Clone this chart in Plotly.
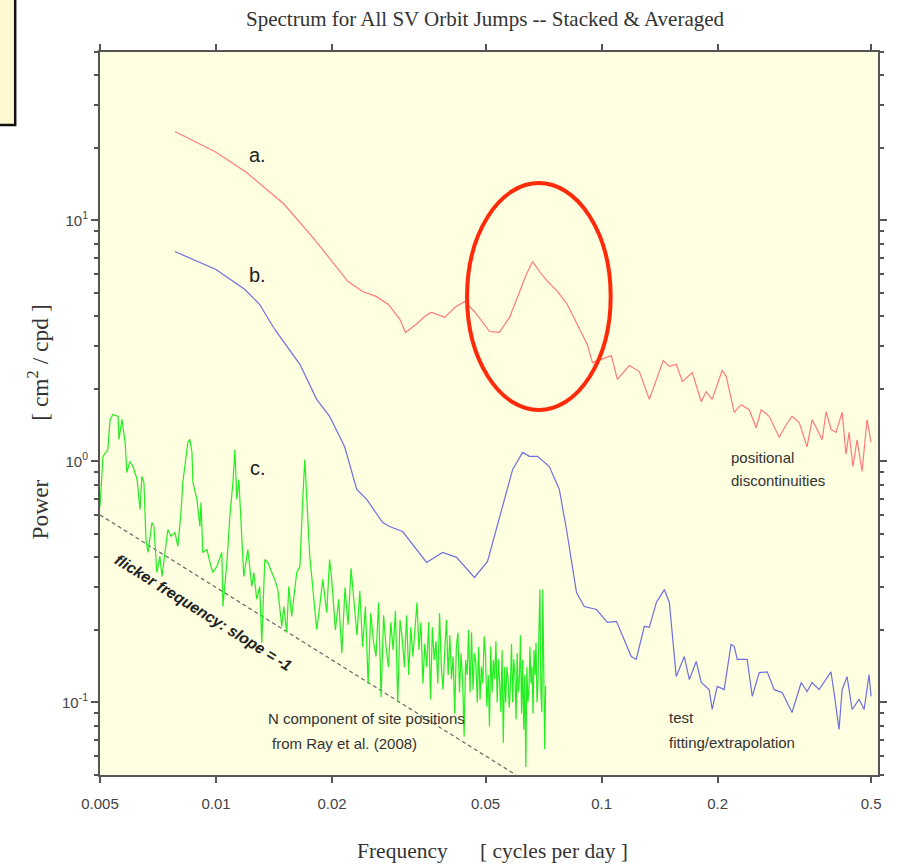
import plotly.graph_objects as go

# ---- data ----
red_f = [0.00782, 0.0100, 0.0120, 0.0150, 0.0180, 0.0200, 0.0220, 0.0240, 0.0260, 0.0280,
         0.0300, 0.0310, 0.0330, 0.0350, 0.0362, 0.0392, 0.0416, 0.0441, 0.0468, 0.0512,
         0.0543, 0.0577, 0.0612, 0.0638, 0.0662, 0.0690, 0.0725, 0.0768, 0.0815, 0.0865,
         0.0918, 0.0947, 0.1060, 0.1099, 0.1180, 0.1253, 0.1330, 0.1445, 0.1499, 0.1562,
         0.1620, 0.1719, 0.1814, 0.1868, 0.1936, 0.2056, 0.2106, 0.2208, 0.2301, 0.2415,
         0.2518, 0.2594, 0.2721, 0.2888, 0.3013, 0.3119, 0.3256, 0.3412, 0.3516, 0.3622,
         0.3733, 0.3824, 0.3936, 0.4055, 0.4207, 0.4305, 0.4385, 0.4487, 0.4599, 0.4739,
         0.4882, 0.500]
red_p = [23.4, 19.2, 15.8, 11.7, 8.34, 6.76, 5.58, 5.07, 4.84, 4.48,
         3.88, 3.43, 3.70, 4.03, 4.15, 3.96, 4.35, 4.61, 4.19, 3.46,
         3.43, 3.96, 5.08, 5.97, 6.76, 6.14, 5.58, 5.08, 4.48, 3.70,
         3.06, 2.57, 2.75, 2.19, 2.50, 2.36, 1.81, 2.62, 2.48, 2.53,
         2.15, 2.34, 1.77, 1.95, 1.81, 2.39, 2.25, 1.60, 1.72, 1.64,
         1.38, 1.64, 1.54, 1.26, 1.42, 1.54, 1.45, 1.15, 1.49, 1.36,
         1.23, 1.61, 1.36, 1.32, 1.60, 1.07, 1.32, 0.953, 1.23, 0.909,
         1.49, 1.20]

blue_f = [0.00782, 0.0100, 0.01188, 0.01298, 0.0142, 0.0165, 0.01824, 0.0197, 0.02156, 0.02317,
          0.02459, 0.02705, 0.0282, 0.03048, 0.03516, 0.03869, 0.04206, 0.0468, 0.0506, 0.0553,
          0.0588, 0.0624, 0.0650, 0.0682, 0.0732, 0.0777, 0.0811, 0.0861, 0.0902, 0.0970,
          0.1035, 0.1093, 0.1194, 0.1230, 0.1291, 0.1330, 0.1387, 0.1455, 0.1499, 0.1562,
          0.1639, 0.1689, 0.1760, 0.1814, 0.1901, 0.1936, 0.1995, 0.2080, 0.2167, 0.2208,
          0.2248, 0.2386, 0.2459, 0.2564, 0.2689, 0.2804, 0.2940, 0.3119, 0.3295, 0.3412,
          0.3516, 0.3666, 0.3824, 0.3936, 0.4009, 0.4130, 0.4207, 0.4333, 0.4466, 0.4656,
          0.4797, 0.4941, 0.500]
blue_p = [7.43, 6.26, 5.17, 4.48, 3.53, 2.53, 1.81, 1.54, 1.15, 0.765,
          0.696, 0.558, 0.537, 0.512, 0.381, 0.419, 0.400, 0.330, 0.385, 0.651,
          0.927, 1.09, 1.05, 1.05, 0.953, 0.765, 0.522, 0.286, 0.250, 0.243,
          0.215, 0.217, 0.155, 0.151, 0.207, 0.205, 0.260, 0.294, 0.260, 0.128,
          0.155, 0.1246, 0.148, 0.121, 0.113, 0.0935, 0.1165, 0.113, 0.174, 0.171,
          0.151, 0.151, 0.106, 0.133, 0.134, 0.113, 0.110, 0.0909, 0.121, 0.111,
          0.121, 0.113, 0.1246, 0.134, 0.110, 0.0773, 0.113, 0.128, 0.0935, 0.103,
          0.0935, 0.1306, 0.106]

# green: low-frequency part (peaks) ...
green_f_low = [0.00500, 0.00509, 0.00524, 0.00531, 0.00540, 0.00557, 0.00560, 0.00570, 0.00581, 0.00587,
               0.00598, 0.00609, 0.00624, 0.00635, 0.00642, 0.00650, 0.00658, 0.00666, 0.00682, 0.00690,
               0.00702, 0.00715, 0.00724, 0.00737, 0.00750, 0.00764, 0.00782, 0.00796, 0.00811, 0.00820,
               0.00835, 0.00845, 0.00855, 0.00866, 0.00871, 0.00892, 0.00908, 0.00914, 0.00924, 0.00947,
               0.00964, 0.00981, 0.01005, 0.01035, 0.01042, 0.01067, 0.01086, 0.01106, 0.01119, 0.01132,
               0.01146, 0.01167, 0.01180, 0.01209, 0.01238, 0.01253, 0.01275, 0.01298, 0.01314, 0.01338,
               0.01362, 0.01395, 0.01420, 0.01446, 0.01481, 0.01499, 0.01525, 0.01544, 0.01571, 0.01619,
               0.01650, 0.01678, 0.01699, 0.01729, 0.01750, 0.01781, 0.01824, 0.01857, 0.01891, 0.01937,
               0.01970, 0.01995]
green_p_low = [0.651, 1.049, 1.121, 1.494, 1.567, 1.537, 1.234, 1.494, 1.199, 0.900,
               1.000, 0.953, 0.842, 0.632, 0.867, 0.818, 0.475, 0.419, 0.558, 0.537,
               0.346, 0.404, 0.333, 0.419, 0.522, 0.489, 0.507, 0.444, 0.614, 0.818,
               1.049, 1.199, 1.234, 1.090, 0.818, 0.696, 0.537, 0.676, 0.419, 0.431,
               0.381, 0.346, 0.367, 0.419, 0.250, 0.381, 0.591, 0.818, 1.121, 0.696,
               0.842, 0.475, 0.333, 0.431, 0.303, 0.346, 0.268, 0.303, 0.1774, 0.392,
               0.381, 0.346, 0.324, 0.294, 0.2067, 0.250, 0.1952, 0.303, 0.2275, 0.346,
               0.367, 0.696, 1.019, 0.591, 0.404, 0.303, 0.201, 0.250, 0.324, 0.236,
               0.392, 0.324]
# ... and the dense, noisy high-frequency part
green_f_high = [0.0204, 0.0208, 0.0212, 0.0216, 0.0220, 0.0224, 0.0228, 0.0232, 0.0236, 0.0240,
                0.0244, 0.0248, 0.0252, 0.0256, 0.0260, 0.0264, 0.0268, 0.0272, 0.0276, 0.0280,
                0.0284, 0.0288, 0.0292, 0.0296, 0.0300, 0.0304, 0.0308, 0.0312, 0.0316, 0.0320,
                0.0324, 0.0328, 0.0332, 0.0336, 0.0340, 0.0344, 0.0348, 0.0352, 0.0356, 0.0360,
                0.0364, 0.0368, 0.0372, 0.0376, 0.0380, 0.0384, 0.0388, 0.0392, 0.0396, 0.0400,
                0.0404, 0.0408, 0.0412, 0.0416, 0.0420, 0.0424, 0.0428, 0.0432, 0.0436, 0.0440,
                0.0444, 0.0448, 0.0452, 0.0456, 0.0460, 0.0464, 0.0468, 0.0472, 0.0476, 0.0480,
                0.0484, 0.0488, 0.0492, 0.0496, 0.0500, 0.0504, 0.0508, 0.0512, 0.0516, 0.0520,
                0.0524, 0.0528, 0.0532, 0.0536, 0.0540, 0.0544, 0.0548, 0.0552, 0.0556, 0.0560,
                0.0564, 0.0568, 0.0572, 0.0576, 0.0580, 0.0584, 0.0588, 0.0592, 0.0596, 0.0600,
                0.0604, 0.0608, 0.0612, 0.0616, 0.0620, 0.0624, 0.0628, 0.0632, 0.0636, 0.0640,
                0.0644, 0.0648, 0.0652, 0.0656, 0.0660, 0.0664, 0.0668, 0.0672, 0.0676, 0.0680,
                0.0684, 0.0688, 0.0692, 0.0696, 0.0700, 0.0704, 0.0708, 0.0712, 0.0716]
green_p_high = [0.200, 0.268, 0.160, 0.300, 0.210, 0.360, 0.250, 0.190, 0.290, 0.170,
                0.250, 0.120, 0.235, 0.180, 0.155, 0.260, 0.105, 0.230, 0.170, 0.140,
                0.215, 0.165, 0.240, 0.100, 0.220, 0.185, 0.140, 0.230, 0.130, 0.205,
                0.155, 0.200, 0.260, 0.165, 0.215, 0.120, 0.175, 0.140, 0.215, 0.103,
                0.205, 0.150, 0.180, 0.120, 0.235, 0.140, 0.113, 0.165, 0.220, 0.130,
                0.190, 0.125, 0.155, 0.090, 0.170, 0.195, 0.110, 0.160, 0.125, 0.072,
                0.150, 0.130, 0.200, 0.110, 0.195, 0.113, 0.160, 0.147, 0.100, 0.170,
                0.103, 0.141, 0.120, 0.188, 0.155, 0.096, 0.130, 0.0795, 0.171, 0.110,
                0.150, 0.125, 0.180, 0.100, 0.151, 0.120, 0.091, 0.165, 0.068, 0.140,
                0.100, 0.141, 0.125, 0.095, 0.1165, 0.175, 0.100, 0.151, 0.130, 0.085,
                0.160, 0.110, 0.125, 0.190, 0.090, 0.150, 0.077, 0.130, 0.054, 0.140,
                0.100, 0.113, 0.170, 0.120, 0.141, 0.090, 0.165, 0.130, 0.177, 0.100,
                0.121, 0.200, 0.294, 0.110, 0.091, 0.294, 0.130, 0.064, 0.117]
green_f = green_f_low + green_f_high
green_p = green_p_low + green_p_high

flicker_f = [0.005, 0.06]
flicker_p = [0.6, 0.05]

x_tick_vals = [0.005, 0.01, 0.02, 0.05, 0.1, 0.2, 0.5]
x_tick_text = ["0.005", "0.01", "0.02", "0.05", "0.1", "0.2", "0.5"]
y_tick_vals = [0.1, 1, 10]
y_tick_text = ["10<sup>-1</sup>", "10<sup>0</sup>", "10<sup>1</sup>"]
y_minor_vals = [m * d for d in (0.01, 0.1, 1, 10) for m in range(2, 10)]

fig = go.Figure()
fig.add_trace(go.Scatter(x=flicker_f, y=flicker_p, mode="lines",
                         line=dict(color="#666666", width=1.2, dash="4px,3px"), hoverinfo="skip"))
fig.add_trace(go.Scatter(x=green_f, y=green_p, mode="lines",
                         line=dict(color="#22EE22", width=1.2)))
fig.add_trace(go.Scatter(x=red_f, y=red_p, mode="lines",
                         line=dict(color="#FF7A7A", width=1.2)))
fig.add_trace(go.Scatter(x=blue_f, y=blue_p, mode="lines",
                         line=dict(color="#6F6FE0", width=1.2)))

axis_col = "#555555"
fig.update_xaxes(type="log", range=[-2.30103, -0.283], tickvals=x_tick_vals, ticktext=x_tick_text,
                 ticks="outside", ticklen=6, tickwidth=1.5, tickcolor=axis_col, ticklabelstandoff=8,
                 showline=True, linecolor=axis_col, linewidth=2, mirror="ticks",
                 showgrid=False, zeroline=False,
                 tickfont=dict(family="Liberation Sans", size=15, color="#444444"))
fig.update_yaxes(type="log", range=[-1.301, 1.699], tickvals=y_tick_vals, ticktext=y_tick_text,
                 ticks="outside", ticklen=7, tickwidth=1.5, tickcolor=axis_col,
                 minor=dict(tickvals=y_minor_vals, ticks="outside", ticklen=4, tickcolor=axis_col,
                            showgrid=False),
                 showline=True, linecolor=axis_col, linewidth=2, mirror="ticks",
                 showgrid=False, zeroline=False,
                 tickfont=dict(family="Liberation Sans", size=15, color="#444444"))

txt_col = "#333333"
for t, yy in (("a.", 0.8575), ("b.", 0.6916), ("c.", 0.4246)):
    fig.add_annotation(text=t, x=0.2026, y=yy, xref="paper", yref="paper",
                       showarrow=False, xanchor="center", yanchor="middle",
                       font=dict(family="Liberation Sans", size=20, color="#222222"))

notes = [
    ("positional", 0.809, 0.4385),
    ("discontinuities", 0.809, 0.408),
    ("test", 0.7282, 0.0802),
    ("fitting/extrapolation", 0.7282, 0.0456),
    ("N component of site positions", 0.2128, 0.0788),
    ("from Ray et al. (2008)", 0.2179, 0.0429),
]
for t, xx, yy in notes:
    fig.add_annotation(text=t, x=xx, y=yy, xref="paper", yref="paper",
                       showarrow=False, xanchor="left", yanchor="middle",
                       font=dict(family="Liberation Sans", size=15, color=txt_col))

fig.add_annotation(text="<b><i>flicker frequency: slope = -1</i></b>", x=0.1333, y=0.2254,
                   xref="paper", yref="paper", showarrow=False, textangle=32,
                   xanchor="center", yanchor="middle",
                   font=dict(family="Liberation Sans", size=15.5, color="#222222"))

# titles
fig.add_annotation(text="Spectrum for All SV Orbit Jumps -- Stacked &amp; Averaged", x=0.495, y=1.0456,
                   xref="paper", yref="paper", showarrow=False, xanchor="center", yanchor="middle",
                   font=dict(family="Liberation Serif", size=21, color=txt_col))
fig.add_annotation(text="Frequency      [ cycles per day ]", x=0.505, y=-0.105,
                   xref="paper", yref="paper", showarrow=False, xanchor="center", yanchor="middle",
                   font=dict(family="Liberation Serif", size=21.5, color=txt_col))
fig.add_annotation(text="Power          [ cm<sup>2</sup> / cpd ]", x=-0.0795, y=0.4876, textangle=-90,
                   xref="paper", yref="paper", showarrow=False, xanchor="center", yanchor="middle",
                   font=dict(family="Liberation Serif", size=23.5, color=txt_col))

# cropped box at top-left and highlight ellipse
fig.add_shape(type="rect", xref="paper", yref="paper", x0=-0.14, x1=-0.109, y0=0.899, y1=1.08,
              fillcolor="#FFFAD2", line=dict(color="#111111", width=2.5), layer="above")
fig.add_shape(type="circle", xref="paper", yref="paper", x0=0.4718, x1=0.6564, y0=0.5048, y1=0.8188,
              line=dict(color="#FF2A0A", width=4), layer="above")

fig.update_layout(width=899, height=866, margin=dict(l=100, r=19, t=52, b=91),
                  paper_bgcolor="white", plot_bgcolor="#FEFEE0", showlegend=False)
fig.write_html("out.html")
